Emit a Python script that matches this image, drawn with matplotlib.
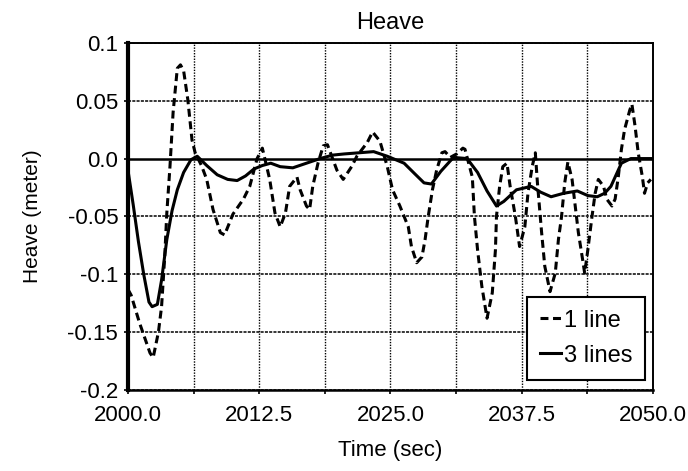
import numpy as np
import matplotlib
matplotlib.use("Agg")
import matplotlib.pyplot as plt
from matplotlib.ticker import MultipleLocator, FixedLocator, FixedFormatter

plt.rcParams['font.family'] = ['Liberation Sans', 'DejaVu Sans']

# "3 lines" (solid)
t_three = [2000.0, 2000.5, 2001.0, 2001.5, 2002.0, 2002.3, 2002.8, 2003.2, 2003.7,
           2004.2, 2004.7, 2005.3, 2006.0, 2006.6, 2007.5, 2008.5, 2009.5, 2010.4,
           2011.2, 2012.0, 2012.8, 2013.6, 2014.5, 2015.7, 2017.0, 2018.3, 2019.5,
           2020.6, 2022.0, 2023.4, 2024.7, 2026.3, 2027.3, 2028.2, 2028.9, 2029.8,
           2031.0, 2032.3, 2033.3, 2034.2, 2035.1, 2035.8, 2037.0, 2038.4, 2039.3,
           2040.3, 2041.5, 2042.8, 2043.8, 2044.7, 2045.4, 2046.0, 2046.5, 2047.0,
           2047.9, 2049.0, 2050.0]
h_three = [-0.010, -0.040, -0.072, -0.100, -0.124, -0.128, -0.126, -0.105, -0.070,
           -0.045, -0.027, -0.012, -0.001, 0.002, -0.006, -0.014, -0.018, -0.019,
           -0.015, -0.009, -0.006, -0.004, -0.007, -0.008, -0.004, 0.000, 0.003,
           0.004, 0.005, 0.006, 0.002, -0.004, -0.013, -0.021, -0.022, -0.011,
           0.001, 0.000, -0.012, -0.028, -0.041, -0.037, -0.027, -0.024, -0.029,
           -0.033, -0.030, -0.028, -0.032, -0.033, -0.030, -0.024, -0.014, -0.004,
           0.000, 0.000, 0.000]

# "1 line" (dashed)
t_one = [2000.0, 2000.3, 2001.1, 2002.1, 2002.4, 2002.9, 2003.2, 2003.5, 2003.7,
         2004.0, 2004.3, 2004.7, 2005.0, 2005.3, 2005.7, 2006.1, 2006.4, 2007.0,
         2007.5, 2008.1, 2008.8, 2009.2, 2010.0, 2011.0, 2011.6, 2012.3, 2012.8,
         2013.5, 2014.0, 2014.5, 2015.0, 2015.4, 2016.1, 2016.4, 2017.0, 2017.3,
         2017.6, 2018.1, 2018.6, 2019.0, 2019.9, 2020.5, 2021.3, 2021.8, 2022.8,
         2023.3, 2024.0, 2024.7, 2025.2, 2025.9, 2026.7, 2027.0, 2027.5, 2028.0,
         2028.3, 2028.6, 2029.0, 2029.4, 2029.9, 2030.2, 2030.7, 2031.3, 2031.9,
         2032.1, 2032.8, 2033.0, 2033.3, 2033.7, 2034.2, 2034.7, 2035.0, 2035.1,
         2035.4, 2035.7, 2036.1, 2036.4, 2036.9, 2037.3, 2037.8, 2038.1, 2038.5,
         2038.8, 2039.0, 2039.4, 2039.7, 2040.2, 2040.7, 2041.0, 2041.3, 2041.6,
         2041.9, 2042.3, 2042.6, 2042.9, 2043.3, 2043.5, 2043.8, 2044.2, 2044.5,
         2044.8, 2045.3, 2045.6, 2046.1, 2046.4, 2046.7, 2047.0, 2047.3, 2047.8,
         2048.0, 2048.3, 2048.6, 2049.0, 2049.2, 2049.5, 2049.8]
h_one = [-0.113, -0.118, -0.142, -0.168, -0.172, -0.150, -0.128, -0.085, -0.047,
         -0.007, 0.040, 0.078, 0.081, 0.076, 0.051, 0.016, 0.005, -0.006,
         -0.018, -0.044, -0.064, -0.066, -0.048, -0.035, -0.024, 0.000, 0.009,
         -0.018, -0.047, -0.059, -0.047, -0.024, -0.016, -0.027, -0.041, -0.044,
         -0.024, -0.004, 0.011, 0.012, -0.010, -0.018, -0.007, 0.002, 0.014,
         0.023, 0.015, -0.007, -0.027, -0.041, -0.059, -0.076, -0.090, -0.085,
         -0.070, -0.050, -0.027, -0.010, 0.005, 0.006, 0.001, 0.004, 0.009,
         0.008, -0.016, -0.050, -0.079, -0.110, -0.138, -0.116, -0.079, -0.050,
         -0.024, -0.007, -0.004, -0.024, -0.050, -0.076, -0.059, -0.030, -0.007,
         0.005, -0.021, -0.064, -0.093, -0.115, -0.099, -0.070, -0.050, -0.021,
         -0.003, -0.018, -0.041, -0.064, -0.087, -0.099, -0.079, -0.050, -0.030,
         -0.018, -0.024, -0.035, -0.041, -0.035, -0.016, 0.008, 0.025, 0.042,
         0.047, 0.028, 0.005, -0.016, -0.030, -0.021, -0.018]

x_ticks = [2000.0, 2012.5, 2025.0, 2037.5, 2050.0]
y_ticks = [0.1, 0.05, 0.0, -0.05, -0.1, -0.15, -0.2]
y_labels = ['0.1', '0.05', '0.0', '-0.05', '-0.1', '-0.15', '-0.2']

fig = plt.figure(figsize=(6.88, 4.71), dpi=100)
ax = fig.add_axes([0.186, 0.172, 0.763, 0.737])

# grid: dotted verticals every 6.25 s, horizontals every 0.05
for gx in np.arange(2006.25, 2050, 6.25):
    ax.axvline(gx, color='black', lw=1.0, ls=(0, (1, 1)), zorder=1)
for gy in y_ticks:
    if gy != 0.0:
        ax.axhline(gy, color='black', lw=1.1, ls=(0, (2, 0.8)), zorder=1)
ax.axhline(0.0, color='black', lw=1.8, zorder=1)

ax.plot(t_one, h_one, color='black', lw=2.2, ls=(0, (2.6, 1.5)), label='1 line', zorder=3)
ax.plot(t_three, h_three, color='black', lw=2.2, label='3 lines', zorder=4)

ax.set_xlim(2000, 2050)
ax.set_ylim(-0.2, 0.1)
ax.xaxis.set_major_locator(FixedLocator(x_ticks))
ax.xaxis.set_minor_locator(MultipleLocator(6.25))
ax.set_xticklabels(['%.1f' % v for v in x_ticks])
ax.yaxis.set_major_locator(FixedLocator(y_ticks))
ax.yaxis.set_major_formatter(FixedFormatter(y_labels))
ax.tick_params(axis='both', which='both', direction='out', length=3, width=1.2,
               labelsize=16, colors='black')
ax.tick_params(axis='y', pad=4)
ax.tick_params(axis='x', pad=8)

ax.spines['left'].set_linewidth(3.0)
ax.spines['bottom'].set_linewidth(1.8)
ax.spines['top'].set_linewidth(1.4)
ax.spines['right'].set_linewidth(1.4)

ax.set_title('Heave', fontsize=17, pad=10)
ax.set_xlabel('Time (sec)', fontsize=16, labelpad=10)
ax.set_ylabel('Heave (meter)', fontsize=15, labelpad=18)

leg = ax.legend(loc='lower right', fontsize=17, handlelength=0.9, handletextpad=0.1,
                borderpad=0.55, labelspacing=0.55, fancybox=False, framealpha=1,
                edgecolor='black', bbox_to_anchor=(0.985, 0.03), borderaxespad=0)
leg.get_frame().set_linewidth(1.5)

fig.savefig('out.png', dpi=100)
